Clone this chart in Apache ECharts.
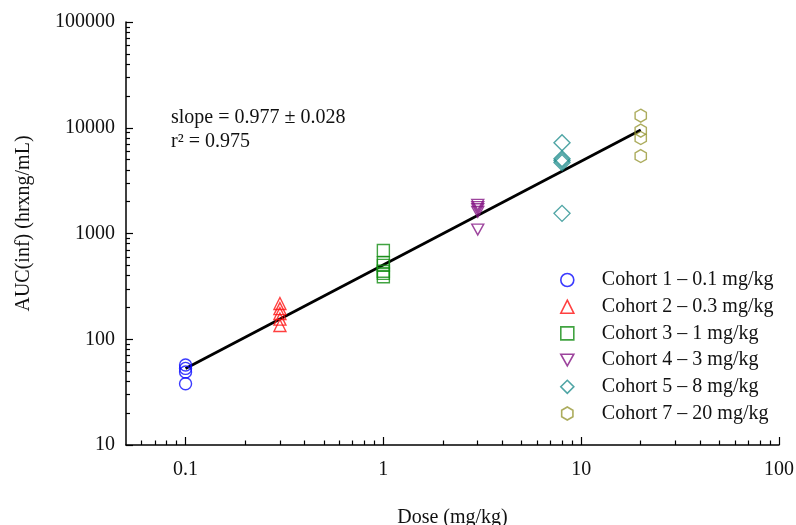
<!DOCTYPE html>
<html>
<head>
<meta charset="utf-8">
<script src="https://cdn.jsdelivr.net/npm/echarts@6/dist/echarts.min.js"></script>
<style>html,body{margin:0;padding:0;background:#fff}#c{width:796px;height:525px}</style>
</head>
<body>
<div id="c"></div>
<script>
var cohortNames = ['Cohort 1 \u2013 0.1 mg/kg','Cohort 2 \u2013 0.3 mg/kg','Cohort 3 \u2013 1 mg/kg','Cohort 4 \u2013 3 mg/kg','Cohort 5 \u2013 8 mg/kg','Cohort 7 \u2013 20 mg/kg'];
var cohortDoses = [0.1, 0.3, 1, 3, 8, 20];
var cohort1 = [57, 53, 49, 38];
var cohort2 = [218, 195, 175, 155, 135];
var cohort3 = [690, 530, 500, 440, 420, 390];
var cohort4 = [1870, 1780, 1700, 1600, 1090];
var cohort5 = [7200, 5100, 4900, 4700, 1550];
var cohort7 = [13000, 9400, 8000, 5400];
var fitLine = [[0.1, 53], [20, 9500]];
var xMajorTicks = [0.1, 1, 10, 100];
var xMinorTicks = [0.06,0.07,0.08,0.09,0.2,0.3,0.4,0.5,0.6,0.7,0.8,0.9,2,3,4,5,6,7,8,9,20,30,40,50,60,70,80,90];
var yMajorTicks = [10, 100, 1000, 10000, 100000];
var yMinorTicks = [20,30,40,50,60,70,80,90,200,300,400,500,600,700,800,900,2000,3000,4000,5000,6000,7000,8000,9000,20000,30000,40000,50000,60000,70000,80000,90000];
var slopeText = 'slope = 0.977 \u00b1 0.028';
var r2Text = 'r\u00b2 = 0.975';

var FONT = '"Liberation Serif","Times New Roman",serif';
var cohortValues = [cohort1, cohort2, cohort3, cohort4, cohort5, cohort7];
var colors = ['#0a0aff', '#ff1010', '#128c12', '#851585', '#238f8f', '#979735'];
var symbols = ['circle', 'triangle', 'rect', 'path://M0,0 L10,0 L5,9 Z', 'diamond',
  'path://M5,0 L9.33,2.5 L9.33,7.5 L5,10 L0.67,7.5 L0.67,2.5 Z'];
var sizes = [12, 12, 12, 12, 16, 13];

var series = cohortValues.map(function (vals, i) {
  return {
    name: cohortNames[i],
    type: 'scatter',
    symbol: symbols[i],
    symbolSize: sizes[i],
    symbolKeepAspect: true,
    data: vals.map(function (v) { return [cohortDoses[i], v]; }),
    itemStyle: { color: 'rgba(0,0,0,0)', borderColor: colors[i], borderWidth: 1.4 },
    z: 3
  };
});
series.push({
  type: 'line',
  data: fitLine,
  symbol: 'none',
  lineStyle: { color: '#000', width: 2.8 },
  z: 2,
  silent: true
});

function plainNum(v) { return String(v); }

var chart = echarts.init(document.getElementById('c'));
chart.setOption({
  animation: false,
  backgroundColor: '#fff',
  textStyle: { fontFamily: FONT },
  grid: { left: 126, right: 17, top: 22, bottom: 80, outerBoundsMode: 'none', containLabel: false },
  xAxis: [{
    type: 'log', min: 0.05, max: 100, logBase: 10,
    name: 'Dose (mg/kg)', nameLocation: 'middle', nameGap: 63,
    nameTextStyle: { fontFamily: FONT, fontSize: 20, color: '#111' },
    axisLine: { show: true, lineStyle: { color: '#000', width: 1.5 } },
    axisTick: { show: true, inside: true, length: 8, customValues: xMajorTicks, lineStyle: { color: '#000', width: 1.2 } },
    axisLabel: { customValues: xMajorTicks, margin: 15, fontFamily: FONT, fontSize: 20, color: '#111', formatter: plainNum },
    splitLine: { show: false }
  }, {
    type: 'log', min: 0.05, max: 100, logBase: 10, position: 'bottom', offset: 0,
    axisLine: { show: false },
    axisTick: { show: true, inside: true, length: 4.5, customValues: xMinorTicks, lineStyle: { color: '#000', width: 1.2 } },
    axisLabel: { show: false },
    splitLine: { show: false }
  }],
  yAxis: [{
    type: 'log', min: 10, max: 100000, logBase: 10,
    name: 'AUC(inf) (hrxng/mL)', nameLocation: 'middle', nameGap: 92,
    nameTextStyle: { fontFamily: FONT, fontSize: 20, color: '#111', padding: [0, 0, 0, 20] },
    axisLine: { show: true, lineStyle: { color: '#000', width: 1.5 } },
    axisTick: { show: true, inside: true, length: 7, customValues: yMajorTicks, lineStyle: { color: '#000', width: 1.2 } },
    axisLabel: { customValues: yMajorTicks, margin: 11, fontFamily: FONT, fontSize: 20, color: '#111', formatter: plainNum },
    splitLine: { show: false }
  }, {
    type: 'log', min: 10, max: 100000, logBase: 10, position: 'left', offset: 0,
    axisLine: { show: false },
    axisTick: { show: true, inside: true, length: 4, customValues: yMinorTicks, lineStyle: { color: '#000', width: 1.2 } },
    axisLabel: { show: false },
    splitLine: { show: false }
  }],
  legend: {
    data: cohortNames,
    orient: 'vertical',
    left: 555, top: 265,
    itemWidth: 13, itemHeight: 13,
    itemGap: 6.7,
    itemStyle: { color: 'rgba(0,0,0,0)', borderWidth: 1.6 },
    textStyle: { fontFamily: FONT, fontSize: 20, color: '#111', lineHeight: 20, padding: [0, 0, 0, 23] },
    selectedMode: false
  },
  graphic: [
    { type: 'text', left: 171, top: 108, style: { text: slopeText, font: '20px ' + FONT, fill: '#111' } },
    { type: 'text', left: 171, top: 132, style: { text: r2Text, font: '20px ' + FONT, fill: '#111' } }
  ],
  series: series
});
</script>
</body>
</html>
